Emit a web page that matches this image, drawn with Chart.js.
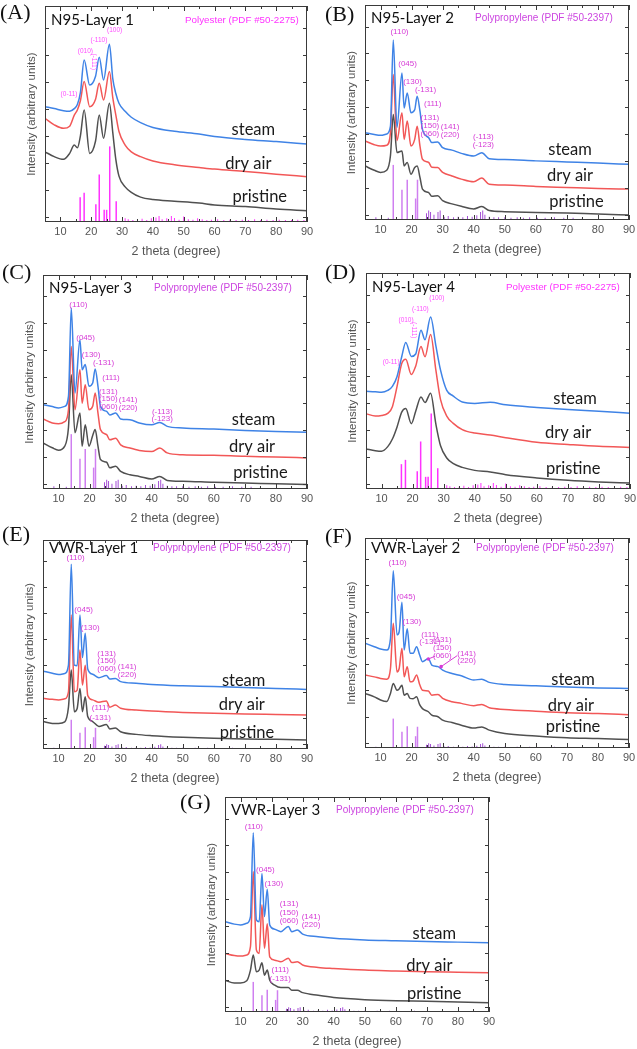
<!DOCTYPE html>
<html>
<head>
<meta charset="utf-8">
<script src="https://cdn.jsdelivr.net/npm/chart.js@4.4.1/dist/chart.umd.min.js"></script>
<style>
  body { margin: 0; background: #fff; width: 637px; height: 1049px; position: relative; overflow: hidden; }
  canvas { position: absolute; }
</style>
</head>
<body>
<canvas id="pA"></canvas>
<canvas id="pB"></canvas>
<canvas id="pC"></canvas>
<canvas id="pD"></canvas>
<canvas id="pE"></canvas>
<canvas id="pF"></canvas>
<canvas id="pG"></canvas>
<script>
// ---- data (2 theta in degrees, intensity in arbitrary offset units) ----
const curveNames = ['steam', 'dry air', 'pristine'];
const xTicks = [10, 20, 30, 40, 50, 60, 70, 80, 90];
const xMinorTicks = [15, 25, 35, 45, 55, 65, 75, 85];
const yTicks = [0.2, 1.2, 2.2, 3.2, 4.2, 5.2, 6.2, 7.2];

// N95-Layer 1 (polyester)
const aX = [5, 8, 11, 13, 14.5, 15.5, 16.5, 17.7, 19.5, 21.4, 22.6, 24, 25.9, 27, 28, 29, 31, 33, 36, 40, 47, 55, 60, 70, 80, 90];
const aSteam = [4.27, 4.2, 4.12, 4.1, 4.2, 4.35, 4.8, 6.0, 5.07, 5.4, 6.1, 5.26, 6.58, 5.3, 4.75, 4.4, 4.1, 3.88, 3.68, 3.5, 3.36, 3.26, 3.17, 3.06, 2.98, 2.89];
const aDry = [3.84, 3.6, 3.47, 3.55, 3.96, 4.15, 4.5, 5.2, 4.27, 4.55, 5.14, 4.52, 5.57, 4.6, 3.95, 3.35, 2.85, 2.6, 2.42, 2.26, 2.12, 2.02, 1.96, 1.87, 1.77, 1.68];
const aPristine = [2.6, 2.42, 2.32, 2.54, 2.85, 2.75, 3.2, 4.15, 2.54, 3.0, 3.96, 3.1, 4.4, 3.3, 2.3, 1.7, 1.3, 1.1, 0.92, 0.83, 0.77, 0.7, 0.63, 0.57, 0.48, 0.42];

// N95-Layer 4 (polyester)
const dX = [5, 8, 10, 12, 13.5, 15, 16.5, 17.8, 19.6, 21, 22.7, 24, 25.8, 27.5, 29, 31, 33, 36, 40, 45, 50, 60, 70, 80, 90];
const dSteam = [3.62, 3.6, 3.58, 3.65, 3.8, 4.17, 4.9, 5.43, 4.91, 5.0, 5.88, 5.53, 6.37, 5.3, 4.4, 3.65, 3.45, 3.22, 3.17, 3.21, 3.12, 3.02, 2.94, 2.88, 2.81];
const dDry = [2.79, 2.7, 2.72, 2.8, 3.05, 3.8, 4.65, 4.81, 4.24, 4.55, 5.28, 4.9, 5.72, 4.4, 3.31, 2.7, 2.44, 2.2, 2.07, 2.0, 1.9, 1.73, 1.65, 1.58, 1.54];
const dPristine = [1.48, 1.42, 1.4, 1.57, 1.85, 2.3, 2.85, 2.98, 2.42, 2.88, 3.41, 3.2, 3.55, 2.4, 1.6, 1.15, 0.95, 0.8, 0.69, 0.63, 0.53, 0.41, 0.32, 0.26, 0.22];

// N95-Layer 2 and 3 (polypropylene)
const ppX1 = [5, 8, 10, 12, 13.2, 14.1, 15.3, 16.9, 17.6, 18.6, 19.8, 21, 21.8, 22.7, 23.5, 25.5, 26.5, 28.4, 30, 33, 36, 40, 42.6, 45, 50, 60, 70, 80, 90];
const bSteam = [3.25, 3.18, 3.15, 3.2, 3.49, 6.7, 3.45, 5.47, 4.17, 4.73, 3.99, 4.1, 4.6, 4.05, 3.37, 3.06, 2.88, 2.9, 2.69, 2.6, 2.48, 2.38, 2.5, 2.28, 2.25, 2.2, 2.16, 2.12, 2.07];
const bDry = [2.94, 2.8, 2.75, 2.78, 3.25, 5.41, 2.95, 3.99, 3.0, 3.68, 2.75, 3.0, 3.49, 2.75, 2.26, 2.14, 1.96, 1.95, 1.77, 1.64, 1.52, 1.42, 1.56, 1.33, 1.3, 1.25, 1.21, 1.17, 1.15];
const bPristine = [2.01, 1.85, 1.77, 1.85, 2.4, 3.93, 2.51, 2.57, 2.01, 2.14, 1.7, 1.95, 2.01, 1.58, 1.15, 1.02, 0.88, 0.9, 0.72, 0.6, 0.51, 0.41, 0.5, 0.35, 0.31, 0.28, 0.26, 0.22, 0.19];
const cSteam = [3.15, 3.08, 3.03, 3.09, 3.46, 6.77, 3.59, 5.58, 4.46, 4.65, 3.84, 3.96, 4.49, 3.84, 3.09, 2.9, 2.77, 2.84, 2.62, 2.59, 2.47, 2.4, 2.49, 2.34, 2.28, 2.24, 2.19, 2.15, 2.12];
const cDry = [2.62, 2.47, 2.44, 2.52, 2.96, 5.33, 2.96, 4.46, 3.21, 3.9, 2.96, 3.09, 3.59, 2.84, 2.22, 2.03, 1.84, 1.9, 1.65, 1.53, 1.44, 1.4, 1.53, 1.35, 1.28, 1.26, 1.22, 1.2, 1.16];
const cPristine = [1.72, 1.54, 1.45, 1.6, 2.3, 4.27, 2.1, 2.84, 1.6, 2.4, 1.6, 2.0, 2.22, 1.6, 1.1, 1.0, 0.79, 0.85, 0.66, 0.53, 0.47, 0.37, 0.47, 0.32, 0.29, 0.25, 0.22, 0.2, 0.17];

// VWR-Layer 1 and 3 (polypropylene)
const ppX2 = [5, 8, 10, 12, 13.2, 14.1, 15.1, 16, 16.9, 17.7, 18.6, 19.4, 21, 23, 25.4, 26.5, 28.3, 30, 35, 40, 50, 60, 70, 80, 90];
const eSteam = [2.98, 2.9, 2.85, 2.89, 3.21, 7.07, 3.21, 3.19, 5.13, 3.5, 4.43, 3.06, 2.86, 2.73, 2.81, 2.68, 2.7, 2.58, 2.52, 2.47, 2.42, 2.39, 2.35, 2.32, 2.28];
const eDry = [1.94, 1.9, 1.88, 1.92, 2.19, 5.13, 2.19, 2.25, 3.79, 2.45, 3.21, 2.05, 1.88, 1.79, 1.84, 1.6, 1.68, 1.56, 1.49, 1.45, 1.4, 1.37, 1.34, 1.32, 1.3];
const ePristine = [1.05, 0.98, 0.98, 1.04, 1.6, 3.02, 1.43, 1.55, 2.32, 1.43, 2.0, 1.24, 1.05, 0.86, 0.94, 0.77, 0.8, 0.66, 0.56, 0.51, 0.45, 0.41, 0.38, 0.37, 0.34];
const gSteam = [3.36, 3.27, 3.24, 3.3, 3.55, 6.67, 3.43, 3.36, 5.15, 3.55, 4.57, 3.24, 3.08, 2.99, 3.18, 2.99, 3.05, 2.9, 2.8, 2.74, 2.68, 2.65, 2.62, 2.6, 2.58];
const gDry = [2.18, 2.1, 2.08, 2.12, 2.43, 5.23, 2.31, 2.18, 3.99, 2.37, 3.28, 2.05, 1.93, 1.87, 2.0, 1.84, 1.87, 1.75, 1.66, 1.62, 1.56, 1.53, 1.5, 1.48, 1.46];
const gPristine = [1.18, 1.08, 1.08, 1.16, 1.56, 2.12, 1.5, 1.56, 1.83, 1.37, 1.56, 1.18, 1.0, 0.91, 0.91, 0.81, 0.81, 0.72, 0.62, 0.54, 0.46, 0.42, 0.4, 0.37, 0.34];

// VWR-Layer 2 (polypropylene)
const fX = [5, 8, 10, 12, 13.2, 14.1, 15.3, 16, 16.9, 17.6, 18.6, 19.5, 20.5, 21.6, 22.6, 23.5, 25.4, 26.5, 28.5, 30, 33, 36, 40, 42.6, 45, 50, 60, 70, 80, 90];
const fSteam = [3.99, 3.86, 3.77, 3.73, 4.17, 6.75, 4.31, 4.43, 5.55, 3.73, 4.54, 3.61, 3.61, 3.86, 3.54, 3.29, 3.41, 3.16, 3.1, 2.97, 2.84, 2.75, 2.59, 2.62, 2.5, 2.42, 2.37, 2.32, 2.29, 2.27];
const fDry = [2.78, 2.71, 2.65, 2.62, 3.03, 4.75, 2.9, 3.03, 3.8, 2.71, 3.1, 2.52, 2.55, 2.78, 2.42, 2.2, 2.17, 2.01, 2.04, 1.89, 1.76, 1.7, 1.61, 1.66, 1.53, 1.47, 1.4, 1.34, 1.31, 1.27];
const fPristine = [2.08, 1.95, 1.83, 1.77, 2.08, 2.46, 2.2, 2.25, 2.39, 2.01, 2.08, 1.89, 1.88, 1.95, 1.65, 1.5, 1.38, 1.25, 1.19, 1.06, 0.97, 0.87, 0.76, 0.8, 0.68, 0.55, 0.46, 0.39, 0.36, 0.32];

// reference patterns
const peX = [16.4, 17.7, 21.5, 22.6, 24.2, 25.0, 26.0, 28.1];
const peH = [0.92, 1.08, 0.66, 1.76, 0.45, 0.45, 2.8, 0.77];
const peMinorX = [31, 32, 33.5, 35, 36.5, 38, 39.5, 41, 42, 43, 44.5, 46, 47, 48.5, 50, 51.5, 53, 54.5, 56, 57.5, 59, 61, 63, 65, 67, 69, 71, 73, 75, 77, 79, 81, 83, 85, 87, 89];
const peMinorH = [0.14, 0.1, 0.07, 0.08, 0.12, 0.07, 0.14, 0.17, 0.22, 0.1, 0.14, 0.22, 0.15, 0.08, 0.2, 0.1, 0.08, 0.14, 0.1, 0.07, 0.08, 0.1, 0.07, 0.08, 0.07, 0.08, 0.07, 0.1, 0.07, 0.08, 0.07, 0.08, 0.07, 0.07, 0.08, 0.07];
const ppX = [14.1, 16.9, 18.6, 21.3, 21.9];
const ppHBig = [2.05, 1.13, 1.5, 0.8, 1.5];
const ppHSmall = [1.12, 0.62, 0.83, 0.45, 0.81];
const ppMinorX = [8.5, 12.5, 24.8, 25.5, 26.1, 27.2, 28.5, 29.2, 30.5, 31.8, 33.5, 35, 36.5, 38, 39.5, 41, 42.2, 42.9, 43.6, 45, 46.5, 48, 50, 52, 54, 56, 58, 60.5, 63, 66, 69, 72, 75];
const ppMinorHBig = [0.1, 0.08, 0.25, 0.35, 0.3, 0.2, 0.3, 0.35, 0.12, 0.15, 0.1, 0.12, 0.1, 0.15, 0.12, 0.18, 0.3, 0.35, 0.2, 0.12, 0.1, 0.1, 0.1, 0.08, 0.1, 0.08, 0.1, 0.08, 0.08, 0.1, 0.08, 0.08, 0.08];
const ppMinorHSmall = [0.05, 0.04, 0.12, 0.18, 0.15, 0.1, 0.15, 0.18, 0.06, 0.08, 0.05, 0.06, 0.05, 0.08, 0.06, 0.09, 0.15, 0.18, 0.1, 0.06, 0.05, 0.05, 0.05, 0.04, 0.05, 0.04, 0.05, 0.04, 0.04, 0.05, 0.04, 0.04, 0.04];

// ---- annotations: [text, 2theta, intensity, vertical] ----
const aHkl = [['(0-11)', 12.8, 4.73], ['(010)', 18.1, 6.33], ['(-111)', 20.8, 5.94, true], ['(-110)', 22.5, 6.72], ['(100)', 27.6, 7.11]];
const dHkl = [['(0-11)', 13.1, 4.69], ['(010)', 17.9, 6.25], ['(-111)', 20.3, 5.88, true], ['(-110)', 22.5, 6.67], ['(100)', 27.8, 7.07]];
const bHkl = [['(110)', 16.1, 6.99], ['(045)', 18.7, 5.8], ['(130)', 20.3, 5.16], ['(-131)', 24.5, 4.85], ['(111)', 26.8, 4.33],
  ['(131)', 25.9, 3.8], ['(150)', 25.9, 3.49], ['(060)', 25.9, 3.19], ['(141)', 32.4, 3.46], ['(220)', 32.4, 3.16], ['(-113)', 43.1, 3.1], ['(-123)', 43.1, 2.81]];
const cHkl = [['(110)', 16.4, 6.89], ['(045)', 18.7, 5.64], ['(130)', 20.5, 5.0], ['(-131)', 24.5, 4.71], ['(111)', 26.9, 4.17],
  ['(131)', 26, 3.65], ['(150)', 26, 3.36], ['(060)', 26, 3.09], ['(141)', 32.4, 3.34], ['(220)', 32.4, 3.03], ['(-113)', 43.4, 2.9], ['(-123)', 43.4, 2.62]];
const eHkl = [['(110)', 15.5, 7.3], ['(045)', 18.1, 5.32], ['(130)', 20.2, 4.64], ['(131)', 25.5, 3.66], ['(150)', 25.5, 3.37], ['(060)', 25.5, 3.06],
  ['(141)', 32.1, 3.15], ['(220)', 32.1, 2.83], ['(111)', 23.5, 1.56], ['(-131)', 23.4, 1.21]];
const fHkl = [['(110)', 15.5, 7.04], ['(045)', 18.2, 5.75], ['(130)', 20.1, 4.79], ['(111)', 25.9, 4.33], ['(-131)', 25.9, 4.03],
  ['(131)', 29.9, 4.11], ['(150)', 29.9, 3.82], ['(060)', 29.9, 3.52], ['(141)', 37.7, 3.6], ['(220)', 37.7, 3.31]];
const gHkl = [['(110)', 14.3, 6.89], ['(045)', 18.0, 5.3], ['(130)', 20.7, 4.77], ['(131)', 25.6, 4.01], ['(150)', 25.6, 3.7], ['(060)', 25.6, 3.39],
  ['(141)', 32.7, 3.55], ['(220)', 32.7, 3.24], ['(111)', 22.8, 1.56], ['(-131)', 22.8, 1.25]];
const fLeaders = [[25.4, 3.39, 27.6, 3.5], [29.5, 3.1, 34.7, 3.52]];

const steamColor = '#3f83e6', dryColor = '#f25757', pristineColor = '#505050';
const peColor = '#ff33ff', ppColor = '#cf7ff0', ppMinorColor = '#a550d6';

const panels = [
  { el: 'pA', letter: '(A)', lx: -45, ly: 7, title: 'N95-Layer 1', ref: 'Polyester (PDF #50-2275)', refDx: 140, ty: 14,
    L: 45, R: 307, T: 6, B: 222, xs: aX, ys: [aSteam, aDry, aPristine],
    sx: peX, sh: peH, mx: peMinorX, mh: peMinorH, main: peColor, minor: peColor,
    hkl: aHkl, hklSize: 6.5, hklColor: '#ff4dff', refColor: '#ff33ff', refSize: 9.8, names: [[72.6, 3.41], [71, 2.17], [74.7, 0.94]] },
  { el: 'pB', letter: '(B)', lx: -40, ly: 10, title: 'N95-Layer 2', ref: 'Polypropylene (PDF #50-2397)', refDx: 110, ty: 13,
    L: 365, R: 629, T: 5, B: 220, xs: ppX1, ys: [bSteam, bDry, bPristine],
    sx: ppX, sh: ppHBig, mx: ppMinorX, mh: ppMinorHBig, main: ppColor, minor: ppMinorColor,
    hkl: bHkl, hklSize: 8, hklColor: '#d63ad6', refColor: '#cc44e0', refSize: 10, names: [[71, 2.6], [71, 1.64], [73.1, 0.68]] },
  { el: 'pC', letter: '(C)', lx: -41, ly: -2, title: 'N95-Layer 3', ref: 'Polypropylene (PDF #50-2397)', refDx: 111, ty: 13,
    L: 43, R: 307, T: 275, B: 489, xs: ppX1, ys: [cSteam, cDry, cPristine],
    sx: ppX, sh: ppHBig, mx: ppMinorX, mh: ppMinorHBig, main: ppColor, minor: ppMinorColor,
    hkl: cHkl, hklSize: 8, hklColor: '#d63ad6', refColor: '#cc44e0', refSize: 10, names: [[72.8, 2.59], [72.3, 1.6], [75, 0.62]] },
  { el: 'pD', letter: '(D)', lx: -41, ly: 0, title: 'N95-Layer 4', ref: 'Polyester (PDF #50-2275)', refDx: 140, ty: 14,
    L: 366, R: 630, T: 273, B: 489, xs: dX, ys: [dSteam, dDry, dPristine],
    sx: peX, sh: peH, mx: peMinorX, mh: peMinorH, main: peColor, minor: peColor,
    hkl: dHkl, hklSize: 6.5, hklColor: '#ff4dff', refColor: '#ff33ff', refSize: 9.8, names: [[72.3, 3.33], [70.1, 2.1], [71.7, 0.74]] },
  { el: 'pE', letter: '(E)', lx: -41, ly: -5, title: 'VWR-Layer 1', ref: 'Polypropylene (PDF #50-2397)', refDx: 110, ty: 8,
    L: 43, R: 307, T: 540, B: 749, xs: ppX2, ys: [eSteam, eDry, ePristine],
    sx: ppX, sh: ppHSmall, mx: ppMinorX, mh: ppMinorHSmall, main: ppColor, minor: ppMinorColor,
    hkl: eHkl, hklSize: 8, hklColor: '#d63ad6', refColor: '#cc44e0', refSize: 10, names: [[69.6, 2.6], [69, 1.68], [70.7, 0.64]] },
  { el: 'pF', letter: '(F)', lx: -40, ly: -1, title: 'VWR-Layer 2', ref: 'Polypropylene (PDF #50-2397)', refDx: 111, ty: 10,
    L: 365, R: 629, T: 538, B: 748, xs: fX, ys: [fSteam, fDry, fPristine],
    sx: ppX, sh: ppHSmall, mx: ppMinorX, mh: ppMinorHSmall, main: ppColor, minor: ppMinorColor,
    hkl: fHkl, hklSize: 8, hklColor: '#d63ad6', refColor: '#cc44e0', refSize: 10, leaders: fLeaders, names: [[72, 2.59], [71.3, 1.63], [72, 0.8]] },
  { el: 'pG', letter: '(G)', lx: -45, ly: 6, title: 'VWR-Layer 3', ref: 'Polypropylene (PDF #50-2397)', refDx: 111, ty: 13,
    L: 225, R: 489, T: 797, B: 1012, xs: ppX2, ys: [gSteam, gDry, gPristine],
    sx: ppX, sh: ppHSmall, mx: ppMinorX, mh: ppMinorHSmall, main: ppColor, minor: ppMinorColor,
    hkl: gHkl, hklSize: 8, hklColor: '#d63ad6', refColor: '#cc44e0', refSize: 10, names: [[72.4, 2.93], [70.8, 1.74], [72.4, 0.69]] }
];

function pts(xs, ys) {
  return xs.map((x, i) => ({ x: x, y: ys[i] }));
}

// frame, inward ticks and all the text inside a panel
function makeDecor(p) {
  return {
    id: 'decor' + p.el,
    afterDraw(chart) {
      const { ctx, chartArea: a, scales: { x, y } } = chart;
      ctx.save();
      ctx.strokeStyle = '#3a3a3a';
      ctx.lineWidth = 1;
      ctx.strokeRect(a.left + 0.5, a.top + 0.5, a.right - a.left - 1, a.bottom - a.top - 1);
      ctx.beginPath();
      xTicks.concat(xMinorTicks).forEach(v => {
        const len = xTicks.includes(v) ? 5 : 3;
        const px = Math.round(x.getPixelForValue(v)) + 0.5;
        ctx.moveTo(px, a.bottom); ctx.lineTo(px, a.bottom - len);
        ctx.moveTo(px, a.top); ctx.lineTo(px, a.top + len);
      });
      yTicks.forEach(v => {
        const py = Math.round(y.getPixelForValue(v)) + 0.5;
        ctx.moveTo(a.left, py); ctx.lineTo(a.left + 4, py);
        ctx.moveTo(a.right, py); ctx.lineTo(a.right - 4, py);
      });
      ctx.stroke();

      // panel letter
      ctx.fillStyle = '#111';
      ctx.textBaseline = 'middle';
      ctx.textAlign = 'left';
      ctx.font = '22px "Liberation Serif"';
      ctx.fillText(p.letter, a.left + p.lx, a.top + p.ly);

      // sample title and reference card
      ctx.font = '15px Lato';
      ctx.fillText(p.title, a.left + 6, a.top + p.ty);
      ctx.fillStyle = p.refColor;
      ctx.font = p.refSize + 'px "Liberation Sans"';
      ctx.fillText(p.ref, a.left + p.refDx, a.top + p.ty);

      // curve names
      ctx.fillStyle = '#1a1a1a';
      ctx.textAlign = 'center';
      ctx.font = '16.5px Lato';
      p.names.forEach((n, i) => {
        ctx.fillText(curveNames[i], x.getPixelForValue(n[0]), y.getPixelForValue(n[1]));
      });

      // Miller indices
      ctx.fillStyle = p.hklColor;
      ctx.font = p.hklSize + 'px "Liberation Sans"';
      p.hkl.forEach(h => {
        const px = x.getPixelForValue(h[1]), py = y.getPixelForValue(h[2]);
        if (h[3]) {
          ctx.save();
          ctx.translate(px, py);
          ctx.rotate(Math.PI / 2);
          ctx.fillText(h[0], 0, 0);
          ctx.restore();
        } else {
          ctx.fillText(h[0], px, py);
        }
      });
      if (p.leaders) {
        ctx.strokeStyle = p.hklColor;
        p.leaders.forEach(l => {
          const x0 = x.getPixelForValue(l[0]), y0 = y.getPixelForValue(l[1]);
          ctx.beginPath();
          ctx.moveTo(x0, y0);
          ctx.lineTo(x.getPixelForValue(l[2]), y.getPixelForValue(l[3]));
          ctx.stroke();
          ctx.beginPath();
          ctx.arc(x0, y0, 1.8, 0, Math.PI * 2);
          ctx.fill();
        });
      }
      ctx.restore();
    }
  };
}

panels.forEach(p => {
  const cv = document.getElementById(p.el);
  const w = p.R - p.L + 46 + 8, h = p.B - p.T + 18 + 37;
  cv.width = w; cv.height = h;
  cv.style.width = w + 'px'; cv.style.height = h + 'px';
  cv.style.left = (p.L - 46) + 'px';
  cv.style.top = (p.T - 18) + 'px';

  const line = (ys, color) => ({
    type: 'line', data: pts(p.xs, ys), borderColor: color, borderWidth: 1.5,
    pointRadius: 0, cubicInterpolationMode: 'monotone', fill: false, order: 1
  });

  new Chart(cv.getContext('2d'), {
    type: 'line',
    data: {
      datasets: [
        { type: 'bar', data: pts(p.sx, p.sh), backgroundColor: p.main, barThickness: 1.5, inflateAmount: 0, grouped: false, order: 0 },
        { type: 'bar', data: pts(p.mx, p.mh), backgroundColor: p.minor, barThickness: 1, inflateAmount: 0, grouped: false, order: 0 },
        line(p.ys[0], steamColor),
        line(p.ys[1], dryColor),
        line(p.ys[2], pristineColor)
      ]
    },
    options: {
      responsive: false,
      animation: false,
      events: [],
      layout: { padding: { top: 18, right: 8, left: 0, bottom: 0 } },
      plugins: { legend: { display: false }, tooltip: { enabled: false } },
      scales: {
        x: {
          type: 'linear', min: 5, max: 90, offset: false,
          grid: { display: false, drawTicks: false },
          border: { display: false },
          afterBuildTicks: s => { s.ticks = xTicks.map(v => ({ value: v })); },
          afterFit: s => { s.height = 37; s.paddingLeft = 0; s.paddingRight = 0; },
          ticks: { color: '#555', font: { family: 'Liberation Sans', size: 11 }, padding: 3, maxRotation: 0, autoSkip: false },
          title: { display: true, text: '2 theta (degree)', color: '#555',
                   font: { family: 'Liberation Sans', size: 12.5 }, padding: { top: 0, bottom: 0 } }
        },
        y: {
          type: 'linear', min: 0, max: 8,
          grid: { display: false, drawTicks: false },
          border: { display: false },
          ticks: { display: false },
          afterFit: s => { s.width = 46; s.paddingTop = 0; s.paddingBottom = 0; },
          title: { display: true, text: 'Intensity (arbitrary units)', color: '#555',
                   font: { family: 'Liberation Sans', size: 11.5 }, padding: { top: 26, bottom: 0 } }
        }
      }
    },
    plugins: [makeDecor(p)]
  });
});
</script>
</body>
</html>
